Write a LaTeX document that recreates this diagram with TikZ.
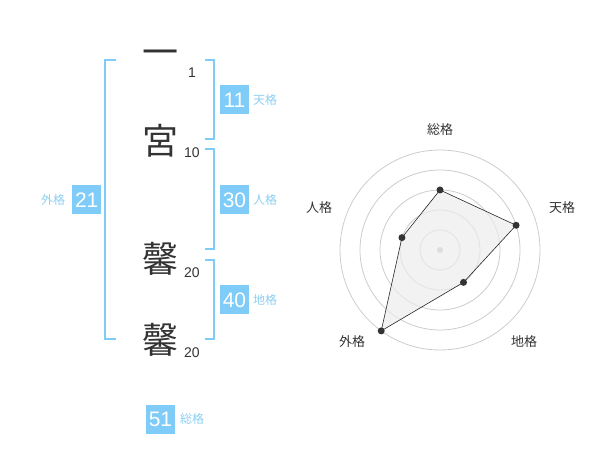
\documentclass[tikz,border=0pt]{standalone}
\usepackage{fontspec}
\setmainfont{Liberation Sans}
\newfontfamily\jp{Noto Sans CJK JP}
\definecolor{br}{HTML}{80CCF8}
\definecolor{bx}{HTML}{80CCF8}
\definecolor{lb}{HTML}{8CCFF2}
\definecolor{tx}{HTML}{333333}
\definecolor{ring}{HTML}{CCCCCC}
\begin{document}
\begin{tikzpicture}[x=1pt,y=1pt,
  kanji/.style={font=\jp\fontsize{36}{36}\selectfont, text=tx, inner sep=0},
  num/.style={font=\fontsize{14}{14}\selectfont, text=tx, inner sep=0},
  numbox/.style={fill=bx, text=white, minimum width=29, minimum height=29, inner sep=0, font=\fontsize{21}{21}\selectfont},
  lab/.style={font=\jp\fontsize{12}{12}\selectfont, text=lb, inner sep=0},
  brk/.style={draw=br, line width=2},
  rlab/.style={font=\jp\fontsize{13}{13}\selectfont, text=tx, inner sep=0},
  dot/.style={circle, fill=tx, minimum size=7, inner sep=0}]
\useasboundingbox (0,0) rectangle (600,-470);
% kanji
\node[kanji] (k1) at (160,-58) {一};
\node[kanji] (k2) at (160,-141) {宮};
\node[kanji] (k3) at (160,-259) {馨};
\node[kanji] (k4) at (160,-340) {馨};
\node[num] (n1) at (192,-73) {1};
\node[num] (n2) at (192,-153) {10};
\node[num] (n3) at (192,-273) {20};
\node[num] (n4) at (192,-353) {20};
% brackets
\draw[brk] (116,-60) -- (105,-60) -- (105,-339) -- (116,-339);
\draw[brk] (205,-60) -- (214,-60) -- (214,-139) -- (205,-139);
\draw[brk] (205,-149) -- (214,-149) -- (214,-249) -- (205,-249);
\draw[brk] (205,-260) -- (214,-260) -- (214,-339) -- (205,-339);
% boxes
\node[numbox] (b11) at (234.5,-100) {11};
\node[lab, anchor=west] (l11) at (253,-100) {天格};
\node[numbox] (b30) at (234.5,-200) {30};
\node[lab, anchor=west] (l30) at (253,-200) {人格};
\node[numbox] (b40) at (234.5,-300) {40};
\node[lab, anchor=west] (l40) at (253,-300) {地格};
\node[numbox] (b21) at (86.7,-200) {21};
\node[lab] (l21) at (53,-200) {外格};
\node[numbox] (b51) at (160.5,-419) {51};
\node[lab] (l51) at (192,-419) {総格};
% radar
\begin{scope}[shift={(440,-250)}]
  \foreach \r in {20,40,60,80,100} \draw[ring, line width=0.8] (0,0) circle (\r);
  \fill[ring!90!black] (0,0) circle (3);
  \coordinate (pS) at (90:60);
  \coordinate (pT) at (18:80);
  \coordinate (pC) at (-54:40);
  \coordinate (pG) at (-126:100);
  \coordinate (pJ) at (162:40);
  \filldraw[fill=gray!15, fill opacity=0.7, draw=black!85, line width=0.6] (pS) -- (pT) -- (pC) -- (pG) -- (pJ) -- cycle;
  \foreach \p in {pS,pT,pC,pG,pJ} \node[dot] at (\p) {};
  \node[rlab] (rS) at (0,120) {総格};
  \node[rlab] (rT) at (122,42) {天格};
  \node[rlab] (rJ) at (-121,42) {人格};
  \node[rlab] (rG) at (-88,-92) {外格};
  \node[rlab] (rC) at (84,-92) {地格};
\end{scope}
\end{tikzpicture}
\end{document}
